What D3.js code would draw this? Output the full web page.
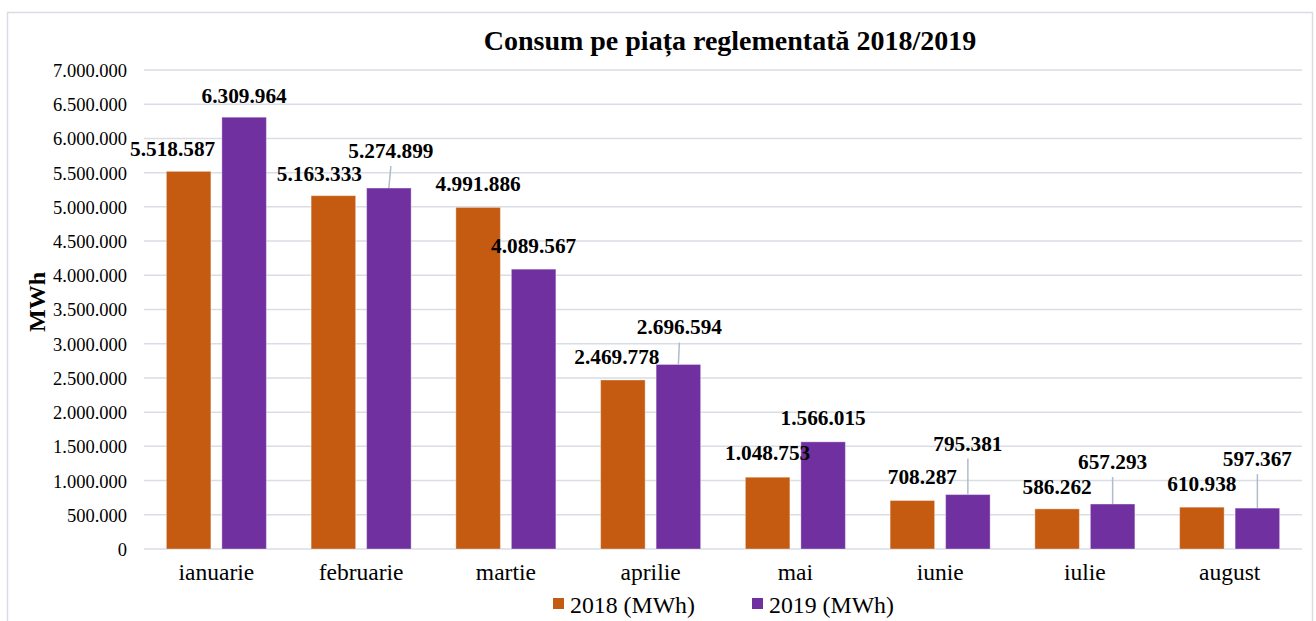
<!DOCTYPE html>
<html>
<head>
<meta charset="utf-8">
<script src="https://cdn.jsdelivr.net/npm/d3@7"></script>
<style>
  body { margin: 0; background: #fff; }
  text { font-family: "Liberation Serif", "Times New Roman", serif; fill: #000; }
  .yaxis .tick text { font-size: 18.5px; }
  .xaxis .tick text { font-size: 23.5px; }
  .title { font-size: 28px; font-weight: bold; }
  .ytitle { font-size: 24px; font-weight: bold; }
  .label { font-size: 21.3px; font-weight: bold; }
  .legend text { font-size: 23.8px; }
</style>
</head>
<body>
<svg id="chart"></svg>
<script>
// data
var months = ["ianuarie","februarie","martie","aprilie","mai","iunie","iulie","august"];
var seriesNames = ["2018 (MWh)","2019 (MWh)"];
var values2018 = [5518587,5163333,4991886,2469778,1048753,708287,586262,610938];
var values2019 = [6309964,5274899,4089567,2696594,1566015,795381,657293,597367];
var yTicks = [0,500000,1000000,1500000,2000000,2500000,3000000,3500000,4000000,4500000,5000000,5500000,6000000,6500000,7000000];

// label nudges as placed in the original (dx, dy from bar top), leader = draw a line
var labelNudge2018 = [[-16,-15],[-14,-15],[0,-16],[-6,-16],[0,-17],[10,-17],[0,-15],[0,-16]];
var labelNudge2019 = [[0,-14],[2,-30],[0,-16],[1,-30],[0,-17],[0,-44],[0,-35],[0,-42]];
var leader2019 = [false,true,false,true,false,true,true,true];

var colors = ["#C55A11","#7030A0"];

var fmt = function(v)
{
    return d3.format(",")(v).replace(/,/g,".");
}

var screen = {width:1316,height:621}
var margins = {left:144,right:14,top:70,bottom:72}
var graph = {
    width:screen.width-margins.left-margins.right,
    height:screen.height-margins.top-margins.bottom
}

var svg = d3.select("#chart")
    .attr("width",screen.width)
    .attr("height",screen.height)

// outer frame
svg.append("rect")
    .attr("x",7.5).attr("y",12.5)
    .attr("width",1305).attr("height",640)
    .attr("fill","none")
    .attr("stroke","#D9DDE3")
    .attr("stroke-width",1.5)

var xScale = d3.scaleBand()
    .domain(months)
    .range([0,graph.width])

var barW = 44.5, barGap = 11;
var innerStart = function(m) { return xScale(m) + (xScale.bandwidth() - (2*barW+barGap))/2; }

var yScale = d3.scaleLinear()
    .domain([0,7000000])
    .range([graph.height,0])

var target = svg.append("g")
    .attr("transform","translate("+margins.left+","+margins.top+")")

// gridlines
target.append("g")
    .selectAll("line")
    .data(yTicks)
    .enter()
    .append("line")
    .attr("x1",0).attr("x2",graph.width)
    .attr("y1",function(d){return yScale(d)})
    .attr("y2",function(d){return yScale(d)})
    .attr("stroke","#D9DEE6")
    .attr("stroke-width",1.5)

// y axis labels
var yAxis = d3.axisLeft(yScale)
    .tickValues(yTicks)
    .tickFormat(fmt)
    .tickSize(0)
    .tickPadding(17)
var yg = target.append("g").attr("class","yaxis").call(yAxis)
yg.select(".domain").remove()
yg.selectAll("text").attr("dy","0.35em")

// x axis labels
var xAxis = d3.axisBottom(xScale).tickSize(0).tickPadding(14)
var xg = target.append("g")
    .attr("class","xaxis")
    .attr("transform","translate(0,"+graph.height+")")
    .call(xAxis)
xg.select(".domain").remove()
xg.selectAll("text").attr("dy","0.71em")

var barLayer = target.append("g")
var lineLayer = target.append("g")
var labelLayer = target.append("g")

var drawSeries = function(vals, idx, nudge, leader)
{
    var rows = months.map(function(m,i){ return {m:m, v:vals[i], i:i}; });
    var bx = function(d){ return innerStart(d.m) + idx*(barW+barGap); };

    barLayer.append("g").selectAll("rect")
        .data(rows)
        .enter()
        .append("rect")
        .attr("x",bx)
        .attr("y",function(d){return yScale(d.v)})
        .attr("width",barW)
        .attr("height",function(d){return graph.height-yScale(d.v)})
        .attr("fill",colors[idx])
        .attr("stroke","#fff")
        .attr("stroke-opacity",0.35)
        .attr("stroke-width",1)

    if (leader)
    {
        lineLayer.append("g").selectAll("line")
            .data(rows.filter(function(d){return leader[d.i]}))
            .enter()
            .append("line")
            .attr("x1",function(d){return bx(d)+barW/2})
            .attr("x2",function(d){return bx(d)+barW/2+nudge[d.i][0]})
            .attr("y1",function(d){return yScale(d.v)})
            .attr("y2",function(d){return yScale(d.v)+nudge[d.i][1]+8})
            .attr("stroke","#AFBCCB")
            .attr("stroke-width",1.5)
    }

    labelLayer.append("g").selectAll("text")
        .data(rows)
        .enter()
        .append("text")
        .attr("class","label")
        .attr("text-anchor","middle")
        .attr("x",function(d){return bx(d)+barW/2+nudge[d.i][0]})
        .attr("y",function(d){return yScale(d.v)+nudge[d.i][1]})
        .text(function(d){return fmt(d.v)})
}

drawSeries(values2018,0,labelNudge2018,null)
drawSeries(values2019,1,labelNudge2019,leader2019)

// title
svg.append("text")
    .attr("class","title")
    .attr("text-anchor","middle")
    .attr("x",730)
    .attr("y",50)
    .text("Consum pe piața reglementată 2018/2019")

// y axis title
svg.append("g")
    .attr("transform","translate(45,302)")
    .append("text")
    .attr("class","ytitle")
    .attr("text-anchor","middle")
    .attr("transform","rotate(270)")
    .text("MWh")

// legend
var legend = svg.append("g").attr("class","legend")
var entries = legend.selectAll("g")
    .data(seriesNames)
    .enter()
    .append("g")
    .attr("transform",function(d,i){return "translate("+(553+i*199)+",598)"})
entries.append("rect")
    .attr("width",11).attr("height",11)
    .attr("fill",function(d,i){return colors[i]})
entries.append("text")
    .attr("x",17).attr("y",15)
    .text(function(d){return d})
</script>
</body>
</html>
